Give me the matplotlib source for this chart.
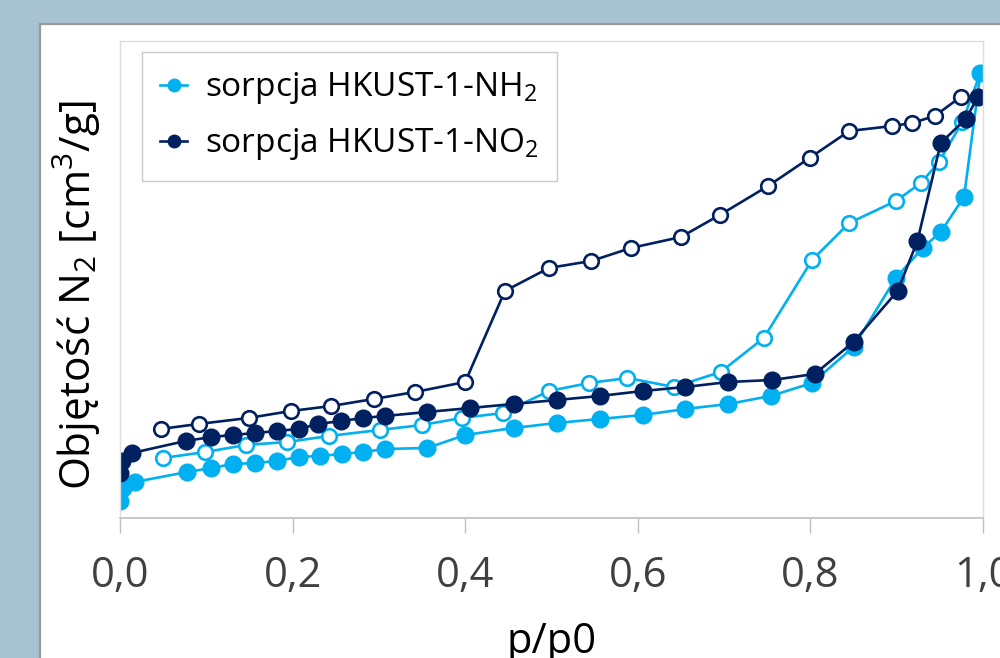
import matplotlib
matplotlib.use("Agg")
import matplotlib.pyplot as plt
from matplotlib.patches import Rectangle

plt.rcParams['font.family'] = ['Open Sans', 'DejaVu Sans']
plt.rcParams['mathtext.fontset'] = 'custom'
plt.rcParams['mathtext.rm'] = 'Open Sans'

# --- data (relative pressure p/p0, adsorbed volume in arbitrary units)
nh2_ads_p = [0.000, 0.003, 0.017, 0.078, 0.106, 0.131, 0.157, 0.182, 0.207, 0.232,
             0.257, 0.282, 0.307, 0.356, 0.400, 0.456, 0.506, 0.556, 0.606, 0.655,
             0.705, 0.754, 0.802, 0.850, 0.899, 0.930, 0.951, 0.978, 0.997]
nh2_ads_v = [17, 30, 36, 46, 50, 54, 55, 57, 61, 62,
             64, 66, 69, 70, 83, 90, 95, 99, 103, 109,
             114, 122, 135, 171, 240, 270, 286, 321, 445]

nh2_des_p = [0.997, 0.976, 0.949, 0.928, 0.899, 0.845, 0.802, 0.746, 0.696, 0.642,
             0.588, 0.544, 0.497, 0.444, 0.396, 0.350, 0.301, 0.242, 0.194, 0.146,
             0.099, 0.050]
nh2_des_v = [445, 396, 356, 335, 317, 295, 258, 180, 146, 131,
             140, 135, 127, 105, 100, 93, 88, 82, 76, 73,
             66, 60]

no2_ads_p = [0.000, 0.002, 0.014, 0.076, 0.106, 0.131, 0.157, 0.182, 0.207, 0.230,
             0.256, 0.282, 0.307, 0.356, 0.406, 0.456, 0.506, 0.556, 0.606, 0.655,
             0.705, 0.756, 0.805, 0.850, 0.901, 0.924, 0.951, 0.980, 0.994]
no2_ads_v = [45, 57, 65, 77, 81, 83, 85, 87, 89, 94,
             97, 100, 102, 106, 110, 114, 118, 122, 127, 131,
             136, 138, 144, 176, 227, 277, 375, 399, 421]

no2_des_p = [0.994, 0.974, 0.944, 0.918, 0.895, 0.845, 0.799, 0.751, 0.695, 0.650,
             0.592, 0.546, 0.497, 0.446, 0.400, 0.342, 0.294, 0.245, 0.198, 0.149,
             0.091, 0.047]
no2_des_v = [421, 421, 402, 395, 392, 387, 360, 332, 303, 281,
             270, 257, 250, 227, 136, 126, 119, 112, 107, 100,
             94, 89]

xticks = [0.0, 0.2, 0.4, 0.6, 0.8, 1.0]
xtick_labels = ["0,0", "0,2", "0,4", "0,6", "0,8", "1,0"]

light = "#00b0f0"
navy = "#002060"

fig = plt.figure(figsize=(10, 6.58), dpi=100)
fig.patch.set_facecolor("#a7c2d0")
fig.patches.append(Rectangle((0.040, -0.01), 1.0, 0.974, transform=fig.transFigure,
                             facecolor="white", edgecolor="#9a9a9a", lw=1.6, zorder=-5))

ax = fig.add_axes([0.120, 0.2128, 0.863, 0.7249])
ax.set_facecolor("white")

ax.plot(nh2_ads_p, nh2_ads_v, color=light, lw=1.9, marker="o", ms=12,
        mfc=light, mec=light, label=r"sorpcja HKUST-1-NH$_\mathregular{2}$")
ax.plot(nh2_des_p, nh2_des_v, color=light, lw=1.9, marker="o", ms=10.5,
        mfc="white", mec=light, mew=1.9, markevery=list(range(1, len(nh2_des_p))))
ax.plot(no2_ads_p, no2_ads_v, color=navy, lw=1.9, marker="o", ms=12,
        mfc=navy, mec=navy, label=r"sorpcja HKUST-1-NO$_\mathregular{2}$")
ax.plot(no2_des_p, no2_des_v, color=navy, lw=1.9, marker="o", ms=10.5,
        mfc="white", mec=navy, mew=1.9, markevery=list(range(1, len(no2_des_p))))

ax.set_xlim(0, 1.0)
ax.set_ylim(0, 477)
ax.set_yticks([])
ax.set_xticks(xticks)
ax.set_xticklabels(xtick_labels)
ax.tick_params(axis="x", length=11, width=1, color="#bfbfbf", labelsize=30,
               labelcolor="#404040", pad=16)
for s in ["top", "left", "right"]:
    ax.spines[s].set_color("#dedede")
    ax.spines[s].set_linewidth(1)
ax.spines["bottom"].set_color("#bfbfbf")
ax.spines["bottom"].set_linewidth(1.2)

leg = ax.legend(loc="upper left", bbox_to_anchor=(0.0255, 0.977), borderaxespad=0,
                fontsize=24, frameon=True, fancybox=False, handlelength=0.8,
                handletextpad=0.55, borderpad=0.55, labelspacing=0.6, markerscale=0.75)
leg.get_frame().set_edgecolor("#bfbfbf")
leg.get_frame().set_linewidth(1)

fig.text(0.077, 0.5517, r"Objętość N$_\mathregular{2}$ [cm$^\mathregular{3}$/g]",
         rotation=90, ha="center", va="center", fontsize=30.5, color="black")
fig.text(0.5515, 0.008, "p/p0", ha="center", va="baseline", fontsize=30, color="black")

fig.savefig("out.png", dpi=100)
